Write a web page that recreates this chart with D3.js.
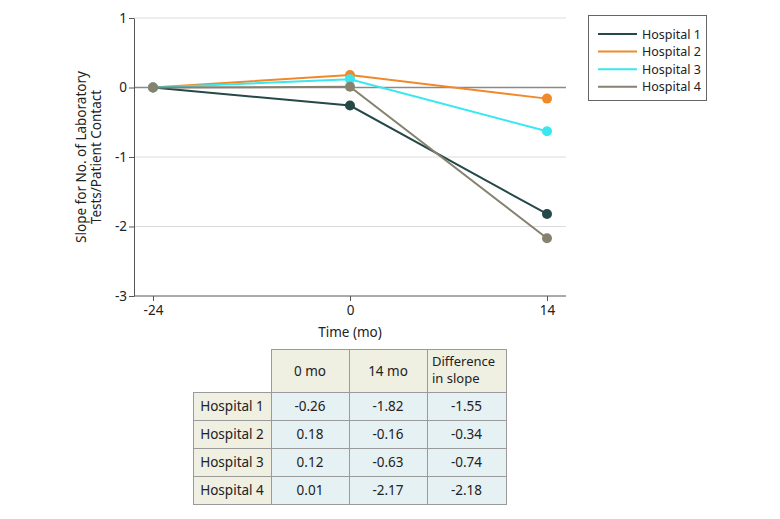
<!DOCTYPE html>
<html><head><meta charset="utf-8">
<script src="https://cdn.jsdelivr.net/npm/d3@7"></script>
<style>body{margin:0;background:#fff;} text{font-family:"Noto Sans","Open Sans",sans-serif;}</style>
</head><body>
<svg id="c" width="780" height="519"></svg>
<script>
const timeLabels = ["-24", "0", "14"];
const hospitals = ["Hospital 1", "Hospital 2", "Hospital 3", "Hospital 4"];
const h1 = [0, -0.26, -1.82];
const h2 = [0, 0.18, -0.16];
const h3 = [0, 0.12, -0.63];
const h4 = [0, 0.01, -2.17];
const colors = ["#254848", "#f0892a", "#38e8f0", "#86826f"];
const yTicks = [1, 0, -1, -2, -3];
const tableHeader = ["", "0 mo", "14 mo", "Difference|in slope"];
const at0 = ["-0.26", "0.18", "0.12", "0.01"];
const at14 = ["-1.82", "-0.16", "-0.63", "-2.17"];
const diff = ["-1.55", "-0.34", "-0.74", "-2.18"];

const FS = 13.5;
const FF = "'Noto Sans','Open Sans',sans-serif";
const svg = d3.select("#c");
const x = d3.scalePoint().domain(timeLabels).range([153, 547]);
const y = d3.scaleLinear().domain([-3, 1]).range([296, 18]);
const left = 134, right = 566;

svg.append("g").selectAll("line").data([1, -1, -2]).join("line")
  .attr("x1", left).attr("x2", right).attr("y1", d => y(d)).attr("y2", d => y(d))
  .attr("stroke", "#dcdcdc").attr("stroke-width", 1);
svg.append("line").attr("x1", left).attr("x2", right).attr("y1", y(0)).attr("y2", y(0))
  .attr("stroke", "#8a8a8a").attr("stroke-width", 1.3);

const yAxis = svg.append("g").attr("transform", `translate(${left},0)`)
  .call(d3.axisLeft(y).tickValues(yTicks).tickFormat(d => String(d)).tickSize(5).tickSizeOuter(0));
yAxis.select(".domain").attr("stroke", "#555");
yAxis.selectAll(".tick line").attr("stroke", "#555");
yAxis.selectAll(".tick text").attr("font-size", FS).attr("fill", "#222").attr("x", -7)
  .style("font-family", FF);

const xAxis = svg.append("g").attr("transform", `translate(0,${y(-3)})`)
  .call(d3.axisBottom(x).tickSize(5).tickSizeOuter(0));
xAxis.select(".domain").attr("d", `M${left},0H${right}`).attr("stroke", "#555");
xAxis.selectAll(".tick line").attr("stroke", "#555");
xAxis.selectAll(".tick text").attr("font-size", FS).attr("fill", "#222").attr("y", 9)
  .style("font-family", FF);

svg.append("text").attr("x", 350).attr("y", 337).attr("text-anchor", "middle")
  .attr("font-size", FS).attr("fill", "#222").text("Time (mo)");
const yl = svg.append("text").attr("transform", "translate(86,157) rotate(-90)")
  .attr("text-anchor", "middle").attr("font-size", FS).attr("fill", "#222");
yl.append("tspan").attr("x", 0).attr("dy", 0).text("Slope for No. of Laboratory");
yl.append("tspan").attr("x", 0).attr("dy", 15).text("Tests/Patient Contact");

const series = [h1, h2, h3, h4];
const line = d3.line().x((d, i) => x(timeLabels[i])).y(d => y(d));
series.forEach((s, k) => {
  const g = svg.append("g");
  g.append("path").attr("d", line(s)).attr("fill", "none")
    .attr("stroke", colors[k]).attr("stroke-width", 2);
  g.selectAll("circle").data(s).join("circle")
    .attr("cx", (d, i) => x(timeLabels[i])).attr("cy", d => y(d)).attr("r", 5)
    .attr("fill", colors[k]);
});

const lg = svg.append("g");
lg.append("rect").attr("x", 588.5).attr("y", 15.5).attr("width", 118).attr("height", 85)
  .attr("fill", "#fff").attr("stroke", "#666");
hospitals.forEach((h, k) => {
  const yy = 34 + k * 17.6;
  lg.append("line").attr("x1", 598).attr("x2", 637).attr("y1", yy).attr("y2", yy)
    .attr("stroke", colors[k]).attr("stroke-width", 2);
  lg.append("text").attr("x", 642).attr("y", yy + 4.5).attr("font-size", 12.5)
    .attr("fill", "#222").text(h);
});

const colX = [193, 271, 349, 427, 506];
const rowY = [349, 392, 420, 448, 476, 504];
const tg = svg.append("g");
const rows = [tableHeader].concat(hospitals.map((h, i) => [h, at0[i], at14[i], diff[i]]));
rows.forEach((r, ri) => {
  r.forEach((cell, ci) => {
    if (ri === 0 && ci === 0) return;
    const fill = (ri === 0 || ci === 0) ? "#efefe2" : "#e6f1f4";
    tg.append("rect").attr("x", colX[ci] + 0.5).attr("y", rowY[ri] + 0.5)
      .attr("width", colX[ci + 1] - colX[ci]).attr("height", rowY[ri + 1] - rowY[ri])
      .attr("fill", fill).attr("stroke", "#9a9a9a").attr("stroke-width", 1);
    const cx = (colX[ci] + colX[ci + 1]) / 2, cy = (rowY[ri] + rowY[ri + 1]) / 2;
    const parts = cell.split("|");
    if (parts.length === 1) {
      tg.append("text").attr("x", cx).attr("y", cy + 5).attr("text-anchor", "middle")
        .attr("font-size", FS).attr("fill", "#222").text(cell);
    } else {
      parts.forEach((p, pi) => {
        tg.append("text").attr("x", colX[ci] + 5).attr("y", 366 + pi * 17)
          .attr("font-size", 13).attr("fill", "#222").text(p);
      });
    }
  });
});
</script>
</body></html>
